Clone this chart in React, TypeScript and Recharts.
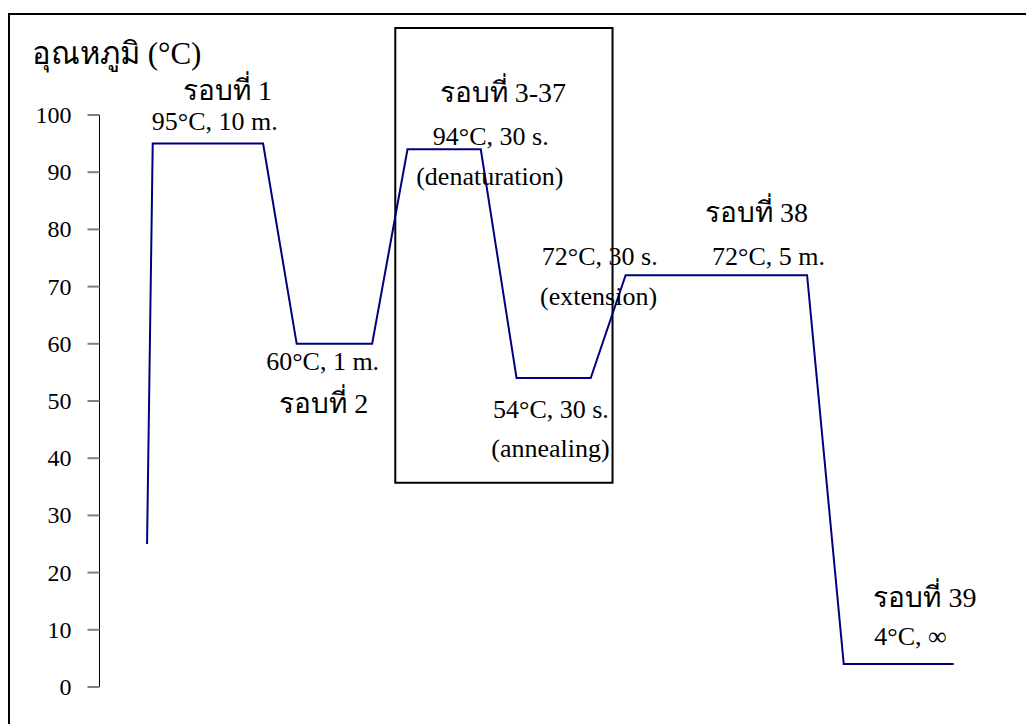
import { LineChart, Line, XAxis, YAxis, ReferenceArea, ReferenceDot } from 'recharts';

// time axis is unitless, temperature in °C
const stepTime = [5.45, 6.1, 18.75, 22.6, 31.25, 35.3, 43.7, 47.8, 56.3, 60.3, 81.1, 85.3, 97.9];
const stepTemp = [25, 95, 95, 60, 60, 94, 94, 54, 54, 72, 72, 4, 4];
const yTicks = [0, 10, 20, 30, 40, 50, 60, 70, 80, 90, 100];

const data = stepTime.map((t, i) => ({ t, temp: stepTemp[i] }));

// annotation text anchored in data coordinates (start of text, baseline)
const labelText = [
  'อุณหภูมิ (°C)',
  'รอบที่ 1', '95°C, 10 m.',
  '60°C, 1 m.', 'รอบที่ 2',
  'รอบที่ 3-37', '94°C, 30 s.', '(denaturation)',
  '72°C, 30 s.', '(extension)',
  '54°C, 30 s.', '(annealing)',
  'รอบที่ 38', '72°C, 5 m.',
  'รอบที่ 39', '4°C, ∞',
];
const labelX = [-7.74, 9.57, 6.0, 19.1, 20.6, 39.0, 38.2, 36.3, 50.7, 50.5, 45.1, 44.9, 69.4, 70.2, 88.7, 88.8];
const labelY = [108.9, 102.6, 97.4, 55.4, 47.9, 102.3, 94.7, 87.8, 73.8, 66.8, 47.0, 40.2, 81.3, 73.8, 14.0, 7.3];
const labelKind = ['title', 'big', 'small', 'small', 'big', 'big', 'small', 'small', 'small', 'small', 'small', 'small', 'big', 'small', 'big', 'small'];
const SIZES: Record<string, number> = { title: 31, big: 28, small: 26 };

const FONT = "'Liberation Serif', 'Times New Roman', serif";

const YTick = (props: any) => {
  const { x, y, payload } = props;
  return (
    <text x={x} y={y} dy={8} textAnchor="end" fontFamily={FONT} fontSize={24} fill="#000">
      {payload.value}
    </text>
  );
};

export default function App() {
  return (
    <div
      style={{
        position: 'absolute',
        left: 8,
        top: 13,
        width: 1018,
        height: 711,
        borderTop: '2px solid #000',
        borderLeft: '2px solid #000',
        boxSizing: 'border-box',
        background: '#fff',
      }}
    >
      <LineChart width={1016} height={709} data={data} margin={{ top: 100, right: 54, bottom: 37, left: 29.5 }}>
        <XAxis
          dataKey="t"
          type="number"
          domain={[0, 100]}
          tick={false}
          tickLine={false}
          height={0}
          axisLine={{ stroke: '#808080', strokeWidth: 2 }}
        />
        <YAxis
          type="number"
          domain={[0, 100]}
          ticks={yTicks}
          interval={0}
          width={60}
          tickSize={12}
          tickMargin={16}
          axisLine={{ stroke: '#000', strokeWidth: 1 }}
          tickLine={{ stroke: '#808080', strokeWidth: 2 }}
          tick={<YTick />}
        />
        <ReferenceArea
          x1={33.9}
          x2={58.8}
          y1={35.7}
          y2={115.2}
          ifOverflow="visible"
          fill="none"
          stroke="#000"
          strokeWidth={2}
        />
        <Line
          dataKey="temp"
          stroke="#000080"
          strokeWidth={2}
          dot={false}
          activeDot={false}
          isAnimationActive={false}
        />
        {labelText.map((txt, i) => (
          <ReferenceDot
            key={i}
            x={labelX[i]}
            y={labelY[i]}
            r={0}
            ifOverflow="visible"
            shape={(p: any) => (
              <text
                x={p.cx}
                y={p.cy}
                fontFamily={FONT}
                fontSize={SIZES[labelKind[i]]}
                fill="#000"
                textAnchor="start"
              >
                {txt}
              </text>
            )}
          />
        ))}
      </LineChart>
    </div>
  );
}
